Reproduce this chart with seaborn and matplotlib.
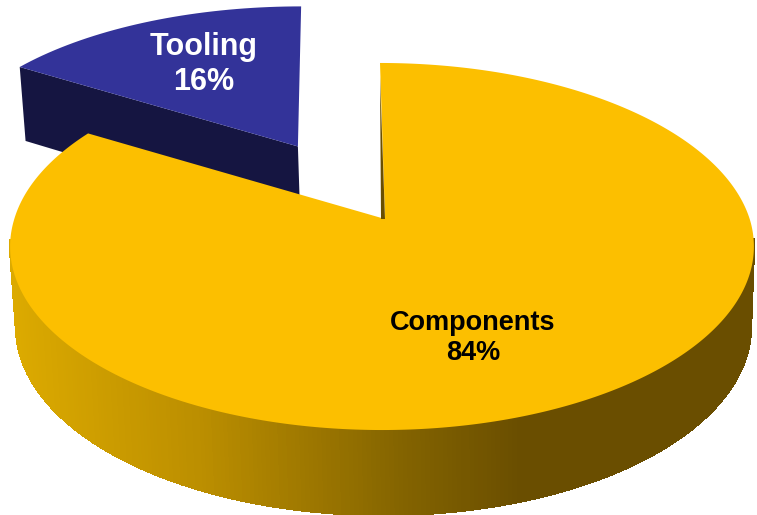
import numpy as np
import seaborn as sns
import matplotlib.pyplot as plt
from matplotlib.collections import PolyCollection
from matplotlib.patches import Polygon

categorias = ['Components', 'Tooling']
valores = [84, 16]

sns.set_theme(style='white')
plt.rcParams['font.family'] = ['Liberation Sans', 'DejaVu Sans']

# cores
cor_comp = '#fcbf00'
cor_tool = '#333399'
cor_tool_lado = '#151541'
cor_fresta = '#6a4e00'
degrade = sns.blend_palette(['#dcaa00', '#bb8e00', '#846400', '#6a4e00', '#6a4e00'], 256)

# "camera" do pie 3d, em pixels da imagem
cx, cy = 381, 220
ax_r, ay_r, k = 368, 179.7, 0.1444


def projeta(u, v):
    w = 1 + k * v
    return cx + 1 + ax_r * u / w, cy - ay_r * v / w


def embaixo(x, y, v):
    # plano de baixo do disco
    return cx + 1.5 + (x - cx) * 0.988, y + 79.4 - 5.6 * v


fig = plt.figure(figsize=(7.57, 5.15), dpi=100)
ax = fig.add_axes([0, 0, 1, 1])
ax.set_xlim(0, 757)
ax.set_ylim(515, 0)
ax.axis('off')

fim_comp = 2 * np.pi * valores[0] / sum(valores)

############################################################################
# fatia Tooling, deslocada para fora
du, dv = -0.24, 0.435
t_tool = np.linspace(fim_comp, 2 * np.pi, 40)
u_tool = np.sin(t_tool) + du
v_tool = np.cos(t_tool) + dv
x_ref, y_ref = projeta(du, dv)
x_tool, y_tool = projeta(u_tool, v_tool)
x_tool = x_ref + (x_tool - x_ref) * 1.03 - 8 * (v_tool - dv)
x_ref = x_ref - 1

x_b, y_b = embaixo(x_tool[0], y_tool[0], v_tool[0])
x_rb, y_rb = embaixo(x_ref, y_ref, dv)
ax.add_patch(Polygon([(x_tool[0], y_tool[0]), (x_ref, y_ref), (x_rb, y_rb), (x_b, y_b)],
                     color=cor_tool_lado, lw=0, zorder=1))
ax.add_patch(Polygon(np.r_[np.c_[x_tool, y_tool], [[x_ref, y_ref]]], color=cor_tool, lw=0, zorder=2))

############################################################################
# lateral de Components, em tiras com o degrade (so a parte da frente)
t_comp = np.linspace(0, fim_comp * 0.996, 500)
u_comp, v_comp = np.sin(t_comp), np.cos(t_comp)
x_comp, y_comp = projeta(u_comp, v_comp)
x_baixo, y_baixo = embaixo(x_comp, y_comp, v_comp)

tiras = []
cores = []
for i in range(len(t_comp) - 1):
    if v_comp[i] > -0.1 or v_comp[i + 1] > -0.1:
        continue
    tiras.append([(x_comp[i], y_comp[i]), (x_comp[i + 1], y_comp[i + 1]),
                  (x_baixo[i + 1], y_baixo[i + 1]), (x_baixo[i], y_baixo[i])])
    pos = np.interp(x_comp[i], [10, 200, 400, 520], [0, 0.25, 0.5, 0.75])
    cores.append(degrade[int(pos * 255)])
ax.add_collection(PolyCollection(tiras, facecolors=cores, edgecolors=cores, linewidths=1,
                                 antialiaseds=False, zorder=3))

# topo de Components
x_centro, y_centro = cx + 4, cy - 1
topo = np.r_[[[x_centro, y_centro]], np.c_[x_comp - 2 * v_comp.clip(0), y_comp]]
ax.add_patch(Polygon(topo, color=cor_comp, lw=0, zorder=4))
ax.add_patch(Polygon([(cx - 1, cy - 143), (x_centro, y_centro), (cx, y_centro)],
                     color=cor_fresta, lw=0, zorder=5))

############################################################################
ax.text(204, 47.5, categorias[1], color='white', fontsize=22, fontweight='bold', ha='center', va='center', zorder=6)
ax.text(204, 81.5, f'{valores[1]}%', color='white', fontsize=22, fontweight='bold', ha='center', va='center', zorder=6)
ax.text(473, 323.5, categorias[0], color='black', fontsize=19.5, fontweight='bold', ha='center', va='center', zorder=6)
ax.text(473, 353.5, f'{valores[0]}%', color='black', fontsize=19.5, fontweight='bold', ha='center', va='center', zorder=6)

fig.savefig('out.png', dpi=100, facecolor='white')
